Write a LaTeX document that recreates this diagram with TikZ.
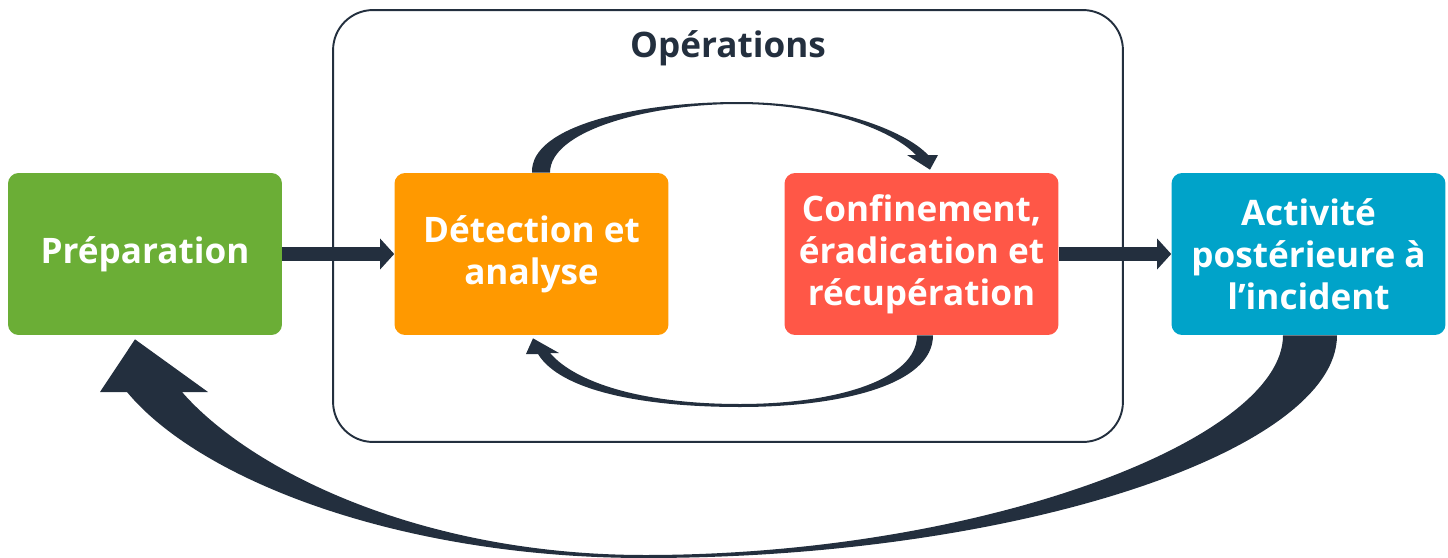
\documentclass[tikz,border=0pt]{standalone}
\usepackage{fontspec}
\setmainfont{Open Sans}
\usetikzlibrary{arrows.meta,positioning,calc}
\definecolor{ink}{HTML}{232F3E}
\definecolor{prepgreen}{HTML}{6BAE36}
\definecolor{detorange}{HTML}{FF9900}
\definecolor{contred}{HTML}{FF5747}
\definecolor{postblue}{HTML}{00A3C9}
\tikzset{
  stage/.style={rounded corners=6pt,align=center,text=white,font=\fontsize{20}{24}\selectfont\bfseries,minimum width=5.48cm,minimum height=3.24cm,inner sep=2pt},
  flow/.style={draw=ink,line width=8.5pt,-{Triangle[length=8pt,width=17.6pt,line width=0pt]}},
  swoosh/.style={fill=ink},
  opsbox/.style={draw=ink,line width=1.1pt,rounded corners=0.8cm,minimum width=15.8cm,minimum height=8.64cm},
  opstitle/.style={text=ink,font=\fontsize{20}{24}\selectfont\bfseries}
}

\begin{document}
\begin{tikzpicture}[x=0.02cm,y=-0.02cm]
\useasboundingbox (0,0) rectangle (1448,558);
% operations frame
\node[opsbox] (ops) at (728,226) {};
\node[opstitle,anchor=base] (opsname) at ($(ops.north)+(0,48)$) {Opérations};
% the four phases
\node[stage,fill=prepgreen] (prep) at (145,254) {Préparation};
\node[stage,fill=detorange] (det) at (531.5,254) {Détection et\\analyse};
\node[stage,fill=contred] (cont) at (921.5,254) {Confinement,\\éradication et\\récupération};
\node[stage,fill=postblue] (post) at (1308.5,254) {Activité\\postérieure à\\l’incident};
\draw[flow] (prep) -- (det);
\draw[flow] (cont) -- (post);
% loop over the top
\fill[swoosh] ($(det.north)+(0.5,0)$) .. controls (530,125) and (640,102) .. (738,102)
  .. controls (830,102) and (905,130) .. (928,155) -- (938,155) -- ($(cont.north)+(8.5,-3)$)
  -- (907,155) -- (916,155) .. controls (890,128) and (820,104) .. (738,104)
  .. controls (650,104) and (550,130) .. ($(det.north)+(18.5,0)$) -- cycle;
% loop back underneath
\fill[swoosh] ($(cont.south)+(-4.5,0)$) -- ($(cont.south)+(11.5,0)$) .. controls (933,385) and (840,407) .. (740,407)
  .. controls (640,407) and (560,390) .. (538,354) -- (526,354) -- ($(det.south)+(1.5,3)$)
  -- (559,353) -- (550,353) .. controls (575,382) and (640,404) .. (740,404)
  .. controls (835,404) and (917,380) .. ($(cont.south)+(-4.5,0)$) -- cycle;
% lessons learned go back to preparation
\fill[swoosh] ($(post.south)+(-25.5,0)$) -- ($(post.south)+(28.5,0)$) .. controls (1337,450) and (1020,558) .. (645,558)
  .. controls (400,558) and (200,480) .. (127,392) -- (100,392) -- ($(prep.south)+(-10,4)$)
  -- (208,392) -- (182,392) .. controls (250,470) and (420,555) .. (645,555)
  .. controls (980,555) and (1283,440) .. ($(post.south)+(-25.5,0)$) -- cycle;
\end{tikzpicture}
\end{document}
